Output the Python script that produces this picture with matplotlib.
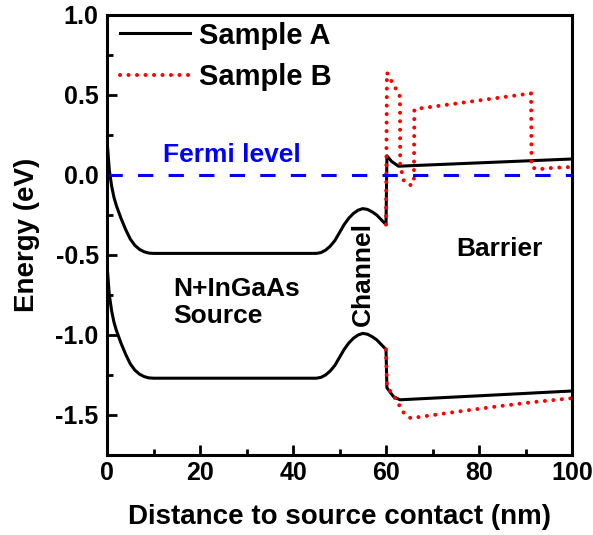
import numpy as np
import matplotlib
matplotlib.use("Agg")
import matplotlib.pyplot as plt
from matplotlib.ticker import MultipleLocator

plt.rcParams['font.family'] = ['Liberation Sans', 'DejaVu Sans']
plt.rcParams['font.weight'] = 'bold'

# source + channel region (both samples identical here)
x_src = [0, 0.5, 1, 1.5, 2, 2.5, 3, 4, 5, 6, 7, 8, 9, 10, 20, 30, 40, 45,
         46, 47, 48, 49, 50, 51, 52, 53, 54, 55, 56, 57, 58, 59, 60]
cb_src = [0.22, 0.03, -0.07, -0.14, -0.19, -0.23, -0.27, -0.34, -0.40, -0.44,
          -0.465, -0.48, -0.488, -0.49, -0.49, -0.49, -0.49, -0.49,
          -0.485, -0.47, -0.445, -0.41, -0.36, -0.31, -0.27, -0.24, -0.22,
          -0.21, -0.215, -0.23, -0.25, -0.28, -0.31]
vb_src = [-0.56, -0.75, -0.85, -0.92, -0.97, -1.01, -1.05, -1.12, -1.18, -1.22,
          -1.245, -1.26, -1.268, -1.27, -1.27, -1.27, -1.27, -1.27,
          -1.265, -1.25, -1.225, -1.19, -1.14, -1.09, -1.05, -1.02, -1.00,
          -0.99, -0.995, -1.01, -1.03, -1.06, -1.09]

# barrier region, sample A
x_cb_a = [60.0, 60.2, 61.2, 62.7, 100]
cb_a = [-0.31, 0.12, 0.085, 0.055, 0.10]
x_vb_a = [60.0, 60.2, 61.6, 63.0, 80, 100]
vb_a = [-1.09, -1.33, -1.385, -1.405, -1.38, -1.35]

# barrier region, sample B
x_cb_b = [60.0, 60.2, 61.1, 62.1, 63.0, 63.05, 63.7, 64.5, 65.5, 66.0, 66.1,
          67, 91.2, 91.3, 92.5, 96, 100]
cb_b = [-0.31, 0.64, 0.59, 0.54, 0.49, 0.07, -0.03, -0.055, -0.065, -0.03,
        0.41, 0.415, 0.51, 0.05, 0.035, 0.045, 0.05]
x_vb_b = [60.0, 60.2, 61.5, 62.6, 63.6, 65.3, 73.9, 82.9, 91.5, 100]
vb_b = [-1.09, -1.32, -1.375, -1.425, -1.48, -1.52, -1.485, -1.45, -1.42, -1.395]

fermi_x = [0, 100]
fermi_y = [0, 0]

fig = plt.figure(figsize=(5.93, 5.35), dpi=100)
ax = fig.add_axes([107/593, 1 - 455/535, 465/593, 440/535])

lw = 2.2
ax.plot(x_src + x_cb_a[1:], cb_src + cb_a[1:], color='black', lw=lw, label='Sample A')
ax.plot(x_src + x_vb_a[1:], vb_src + vb_a[1:], color='black', lw=lw)

red_kw = dict(color='#ff0000', lw=2.9, linestyle=(0, (0.01, 2.1)),
              dash_capstyle='round')
ax.plot(x_cb_b, cb_b, label='Sample B', **red_kw)
ax.plot(x_vb_b, vb_b, **red_kw)

ax.plot(fermi_x, fermi_y, color='#0000ff', lw=2.2, linestyle=(0, (5, 5)))

ax.set_xlim(0, 100)
ax.set_ylim(-1.75, 1.0)
ax.xaxis.set_major_locator(MultipleLocator(20))
ax.xaxis.set_minor_locator(MultipleLocator(10))
ax.yaxis.set_minor_locator(MultipleLocator(0.25))
ax.set_yticks([-1.5, -1.0, -0.5, 0.0, 0.5, 1.0])
ax.set_yticklabels(['-1.5', '-1.0', '-0.5', '0.0', '0.5', '1.0'])

for sp in ax.spines.values():
    sp.set_linewidth(2.2)
ax.tick_params(which='both', direction='in', top=False, right=False,
               width=2.0, labelsize=18)
ax.tick_params(which='major', length=7, pad=6)
ax.tick_params(axis='x', which='major', pad=4)
ax.tick_params(which='minor', length=4)

ax.set_xlabel('Distance to source contact (nm)', fontsize=20, fontweight='bold', labelpad=14)
ax.set_ylabel('Energy (eV)', fontsize=20, fontweight='bold', labelpad=11)

ax.text(12, 0.125, 'Fermi level', color='#0000ff', fontsize=19,
        fontweight='bold', va='center', ha='left')
ax.text(14.2, -0.795, 'N+InGaAs\nSource', color='black', fontsize=19,
        fontweight='bold', va='center', ha='left', linespacing=1.15)
ax.text(75, -0.46, 'Barrier', color='black', fontsize=19,
        fontweight='bold', va='center', ha='left')
ax.text(55, -0.62, 'Channel', color='black', fontsize=19,
        fontweight='bold', va='center', ha='center', rotation=90)

ax.legend(loc='upper left', bbox_to_anchor=(0.028, 0.985), frameon=False,
          fontsize=21, handlelength=2.4, handletextpad=0.3,
          labelspacing=0.45, borderpad=0, borderaxespad=0)

plt.savefig('out.png', dpi=100)
